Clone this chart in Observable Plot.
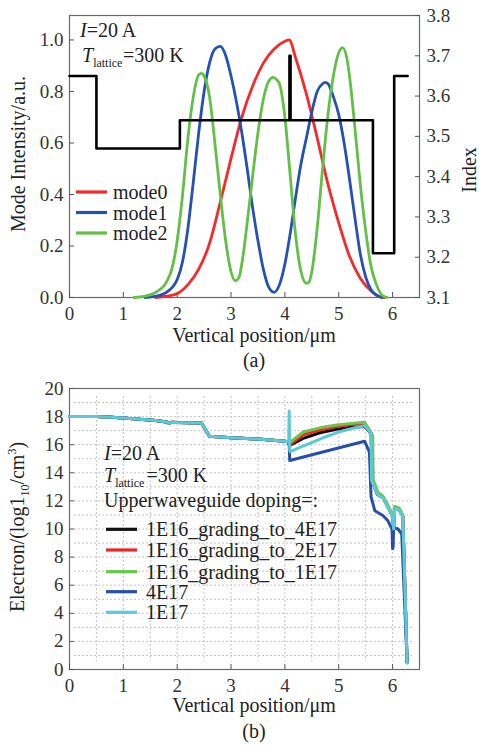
<!DOCTYPE html>
<html><head><meta charset="utf-8">
<script src="https://cdn.jsdelivr.net/npm/d3@7"></script>
<script src="https://cdn.jsdelivr.net/npm/@observablehq/plot@0.6"></script>
<style>
body{margin:0;background:#fff;}
.wrap{position:relative;width:479px;overflow:hidden;}
.wrap svg{display:block;}
</style></head><body>
<div id="a" class="wrap" style="height:372px"></div>
<div id="b" class="wrap" style="height:373px"></div>
<script>
// ---------- data: chart (a) ----------
const xTicks = [0, 1, 2, 3, 4, 5, 6];
const modeTicks = [0, 0.2, 0.4, 0.6, 0.8, 1.0];
const indexTicks = [3.1, 3.2, 3.3, 3.4, 3.5, 3.6, 3.7, 3.8];
const modeNames = ["mode0", "mode1", "mode2"];
const modeColors = ["#f52a2a", "#2451b3", "#63c046"];

const mode0X = [1.6, 1.8, 2.0, 2.2, 2.4, 2.6, 2.8, 3.0, 3.2, 3.4, 3.6, 3.8, 4.0, 4.08, 4.2, 4.4, 4.6, 4.8, 5.0, 5.2, 5.4, 5.6, 5.75, 5.85];
const mode0Y = [0.0, 0.005, 0.015, 0.05, 0.11, 0.21, 0.37, 0.54, 0.70, 0.82, 0.91, 0.965, 0.995, 1.0, 0.93, 0.79, 0.62, 0.44, 0.29, 0.16, 0.075, 0.025, 0.003, 0.0];

const mode1X = [1.4, 1.6, 1.8, 2.0, 2.1, 2.2, 2.3, 2.4, 2.5, 2.6, 2.7, 2.8, 2.9, 3.0, 3.1, 3.2, 3.3, 3.4, 3.5, 3.6, 3.7, 3.8, 3.9, 4.0, 4.1, 4.2, 4.3, 4.4, 4.5, 4.6, 4.7, 4.75, 4.8, 4.9, 5.0, 5.1, 5.2, 5.3, 5.4, 5.5, 5.6, 5.7, 5.8];
const mode1Y = [0.0, 0.005, 0.02, 0.07, 0.14, 0.27, 0.45, 0.64, 0.80, 0.91, 0.965, 0.975, 0.94, 0.86, 0.76, 0.64, 0.50, 0.35, 0.22, 0.11, 0.04, 0.02, 0.05, 0.13, 0.25, 0.39, 0.52, 0.62, 0.72, 0.80, 0.83, 0.835, 0.83, 0.78, 0.71, 0.60, 0.46, 0.31, 0.17, 0.08, 0.03, 0.01, 0.0];

const mode2X = [1.2, 1.4, 1.6, 1.8, 1.9, 2.0, 2.1, 2.2, 2.3, 2.4, 2.45, 2.5, 2.6, 2.7, 2.8, 2.9, 3.0, 3.08, 3.15, 3.2, 3.3, 3.4, 3.5, 3.6, 3.7, 3.78, 3.85, 3.9, 4.0, 4.1, 4.2, 4.3, 4.4, 4.45, 4.5, 4.6, 4.7, 4.8, 4.9, 5.0, 5.07, 5.15, 5.2, 5.3, 5.4, 5.5, 5.6, 5.7, 5.8, 5.9];
const mode2Y = [0.0, 0.005, 0.02, 0.06, 0.11, 0.22, 0.40, 0.62, 0.78, 0.865, 0.87, 0.86, 0.78, 0.60, 0.40, 0.22, 0.10, 0.065, 0.08, 0.13, 0.29, 0.47, 0.64, 0.77, 0.84, 0.855, 0.845, 0.83, 0.70, 0.47, 0.24, 0.10, 0.055, 0.06, 0.10, 0.27, 0.50, 0.71, 0.86, 0.95, 0.97, 0.93, 0.86, 0.66, 0.44, 0.26, 0.12, 0.05, 0.01, 0.0];

const indexX = [0, 0.5, 2.05, 4.085, 4.105, 5.635, 6.03, 6.28];
const indexY = [3.65, 3.47, 3.54, 3.70, 3.54, 3.21, 3.65, 3.65];

// ---------- data: chart (b) ----------
const elecTicks = [0, 2, 4, 6, 8, 10, 12, 14, 16, 18, 20];
const dopingNames = ["1E16_grading_to_4E17", "1E16_grading_to_2E17", "1E16_grading_to_1E17", "4E17", "1E17"];
const dopingColors = ["#111111", "#ee2525", "#6cc44a", "#2a4ea8", "#5cc9d9"];

const sharedX = [0, 0.5, 0.7, 1.0, 1.3, 1.6, 1.8, 1.85, 1.9, 2.0, 2.45, 2.6, 3.0, 3.5, 4.0, 4.07];
const sharedY = [18.0, 18.0, 17.98, 17.9, 17.82, 17.72, 17.62, 17.52, 17.6, 17.58, 17.55, 16.6, 16.5, 16.4, 16.25, 16.2];

const blackX = [4.08, 4.09, 4.34, 4.65, 4.96, 5.2, 5.48, 5.6, 5.62, 5.72, 5.82, 5.91, 6.0, 6.02, 6.04, 6.12, 6.19, 6.27];
const blackY = [16.0, 15.95, 16.45, 16.85, 17.1, 17.22, 17.3, 16.8, 13.4, 12.45, 12.25, 11.6, 10.9, 10.1, 11.5, 11.4, 10.9, 0.5];
const redX = [4.08, 4.09, 4.34, 4.65, 4.96, 5.2, 5.48, 5.61, 5.62, 5.72, 5.82, 5.91, 6.0, 6.02, 6.04, 6.12, 6.19, 6.27];
const redY = [16.05, 16.0, 16.7, 17.05, 17.3, 17.42, 17.5, 16.8, 13.45, 12.5, 12.28, 11.65, 10.95, 10.2, 11.55, 11.45, 10.95, 0.5];
const greenX = [4.08, 4.09, 4.34, 4.65, 4.96, 5.2, 5.48, 5.63, 5.64, 5.73, 5.82, 5.91, 6.0, 6.02, 6.04, 6.12, 6.19, 6.27];
const greenY = [16.1, 16.15, 16.9, 17.2, 17.4, 17.5, 17.6, 16.65, 13.5, 12.6, 12.35, 11.7, 11.05, 10.4, 11.6, 11.5, 11.0, 0.5];
const blueX = [4.08, 4.09, 5.48, 5.57, 5.6, 5.67, 5.82, 5.91, 5.99, 6.0, 6.01, 6.02, 6.1, 6.17, 6.27];
const blueY = [16.0, 14.87, 16.25, 15.47, 12.3, 11.3, 10.96, 10.6, 10.0, 8.6, 8.7, 10.1, 10.0, 9.66, 0.5];
const cyanX = [4.08, 4.09, 4.1, 4.3, 4.5, 4.75, 5.0, 5.25, 5.48, 5.58, 5.6, 5.61, 5.73, 5.82, 5.91, 6.0, 6.02, 6.04, 6.12, 6.19, 6.27];
const cyanY = [18.4, 15.6, 15.5, 15.85, 16.15, 16.55, 16.9, 17.15, 17.35, 16.9, 16.8, 13.45, 12.4, 12.2, 11.55, 10.85, 10.0, 11.45, 11.35, 10.85, 0.45];

// ---------- helpers ----------
const FONT = '"Liberation Serif", "Times New Roman", Times, serif';
const pts = (X, Y) => X.map((x, i) => ({x, y: Y[i]}));
const baseStyle = {fontFamily: FONT, fontSize: "19px", color: "#333", background: "transparent", overflow: "visible"};

function richText(svg, x, y, parts, opts = {}) {
  const t = d3.select(svg).append("text")
    .attr("font-family", FONT).attr("font-size", opts.size || 20)
    .attr("fill", opts.fill || "#222").attr("text-anchor", opts.anchor || "start");
  if (opts.rotate) t.attr("transform", `translate(${x},${y}) rotate(${opts.rotate})`);
  else t.attr("x", x).attr("y", y);
  let shift = 0;
  for (const p of parts) {
    const s = t.append("tspan").text(p.t);
    const target = p.sub ? 5 : p.sup ? -8 : 0;
    if (target !== shift) { s.attr("dy", target - shift); shift = target; }
    if (p.sub || p.sup) s.attr("font-size", 12);
    if (p.it) s.attr("font-style", "italic");
    if (p.dx) s.attr("dx", p.dx);
  }
}
function legend(svg, x0, x1, xt, ys, labels, colors) {
  const g = d3.select(svg).append("g");
  labels.forEach((lab, i) => {
    g.append("line").attr("x1", x0).attr("x2", x1).attr("y1", ys[i]).attr("y2", ys[i])
      .attr("stroke", colors[i]).attr("stroke-width", 3.2);
    g.append("text").attr("x", xt).attr("y", ys[i] + 7).attr("font-family", FONT)
      .attr("text-anchor", "start")
      .attr("font-size", 20).attr("fill", "#222").text(lab);
  });
}

// ---------- chart (a) ----------
const W = 479;
const mA = {marginTop: 15, marginLeft: 69, marginRight: 60, marginBottom: 75};
const modeData = [pts(mode0X, mode0Y), pts(mode1X, mode1Y), pts(mode2X, mode2Y)];
const svgA = Plot.plot({
  width: W, height: 372, ...mA, style: baseStyle,
  x: {domain: [0, 6.5]},
  y: {domain: [0, 1.095]},
  marks: [
    Plot.frame({stroke: "#6a6a6a", strokeWidth: 1.2}),
    Plot.axisX({ticks: xTicks, tickSize: -5, tickPadding: 14, tickFormat: d3.format("d"), label: null, stroke: "#555"}),
    Plot.axisY({ticks: modeTicks, tickSize: -5, tickPadding: 11, tickFormat: d3.format(".1f"), label: null, stroke: "#555"}),
    ...modeData.map((d, i) => Plot.line(d, {x: "x", y: "y", stroke: modeColors[i], strokeWidth: 2.8, curve: "monotone-x"}))
  ]
});
document.getElementById("a").appendChild(svgA);
const svgA2 = Plot.plot({
  width: W, height: 372, ...mA, style: baseStyle,
  x: {domain: [0, 6.5], axis: null},
  y: {domain: [3.1, 3.8]},
  marks: [
    Plot.axisY({anchor: "right", ticks: indexTicks, tickSize: -5, tickPadding: 12, tickFormat: d3.format(".1f"), label: null, stroke: "#555"}),
    Plot.line(pts(indexX, indexY), {x: "x", y: "y", curve: "step-after", stroke: "#000", strokeWidth: 2.6})
  ]
});
svgA2.style.position = "absolute"; svgA2.style.left = "0px"; svgA2.style.top = "0px";
document.getElementById("a").appendChild(svgA2);

richText(svgA, 80, 37, [{t: "I", it: true}, {t: "=20 A"}]);
richText(svgA, 82, 62, [{t: "T", it: true}, {t: "lattice", sub: true}, {t: "=300 K", dx: 0.5}]);
richText(svgA, 25, 154, [{t: "Mode Intensity/a.u."}], {rotate: -90, anchor: "middle"});
richText(svgA2, 476, 170, [{t: "Index"}], {rotate: -90, anchor: "middle"});
richText(svgA, 254, 342, [{t: "Vertical position/μm"}], {anchor: "middle"});
richText(svgA, 254, 367, [{t: "(a)"}], {anchor: "middle"});
legend(svgA, 76, 107, 113, [192, 212.5, 233], modeNames, modeColors);

// ---------- chart (b) ----------
const series = [pts(sharedX.concat(blackX), sharedY.concat(blackY)), pts(sharedX.concat(redX), sharedY.concat(redY)),
  pts(sharedX.concat(greenX), sharedY.concat(greenY)), pts(sharedX.concat(blueX), sharedY.concat(blueY)),
  pts(sharedX.concat(cyanX), sharedY.concat(cyanY))];
const svgB = Plot.plot({
  width: W, height: 373, marginTop: 16, marginLeft: 69, marginRight: 60, marginBottom: 76, style: baseStyle,
  x: {domain: [0, 6.5]},
  y: {domain: [0, 20]},
  marks: [
    Plot.gridX(d3.range(0.5, 6.01, 0.5), {stroke: "#c4c4c4", strokeOpacity: 1, strokeDasharray: "2,2", insetTop: 8, insetBottom: 8}),
    Plot.gridY(d3.range(1, 20, 1), {stroke: "#c4c4c4", strokeOpacity: 1, strokeDasharray: "2,2", insetLeft: 5, insetRight: 6}),
    Plot.frame({stroke: "#6a6a6a", strokeWidth: 1.2}),
    Plot.axisX({ticks: xTicks, tickSize: -5, tickPadding: 14, tickFormat: d3.format("d"), label: null, stroke: "#555"}),
    Plot.axisY({ticks: elecTicks, tickSize: -5, tickPadding: 11, tickFormat: d3.format("d"), label: null, stroke: "#555"}),
    ...series.map((d, i) => Plot.line(d, {x: "x", y: "y", stroke: dopingColors[i], strokeWidth: 3, strokeLinejoin: "round"}))
  ]
});
document.getElementById("b").appendChild(svgB);
richText(svgB, 104, 88, [{t: "I", it: true}, {t: "=20 A"}]);
richText(svgB, 104, 110, [{t: "T", it: true}, {t: "lattice", sub: true}, {t: "=300 K", dx: 2}]);
richText(svgB, 104, 135, [{t: "Upperwaveguide doping=:"}]);
legend(svgB, 106, 137, 146, [157.3, 178, 199.7, 219.7, 240.3], dopingNames, dopingColors);
richText(svgB, 24, 155, [{t: "Electron/(log1"}, {t: "10", sub: true}, {t: "/cm"}, {t: "3", sup: true}, {t: ")"}], {rotate: -90, anchor: "middle"});
richText(svgB, 254, 340, [{t: "Vertical position/μm"}], {anchor: "middle"});
richText(svgB, 254, 366, [{t: "(b)"}], {anchor: "middle"});
</script></body></html>
